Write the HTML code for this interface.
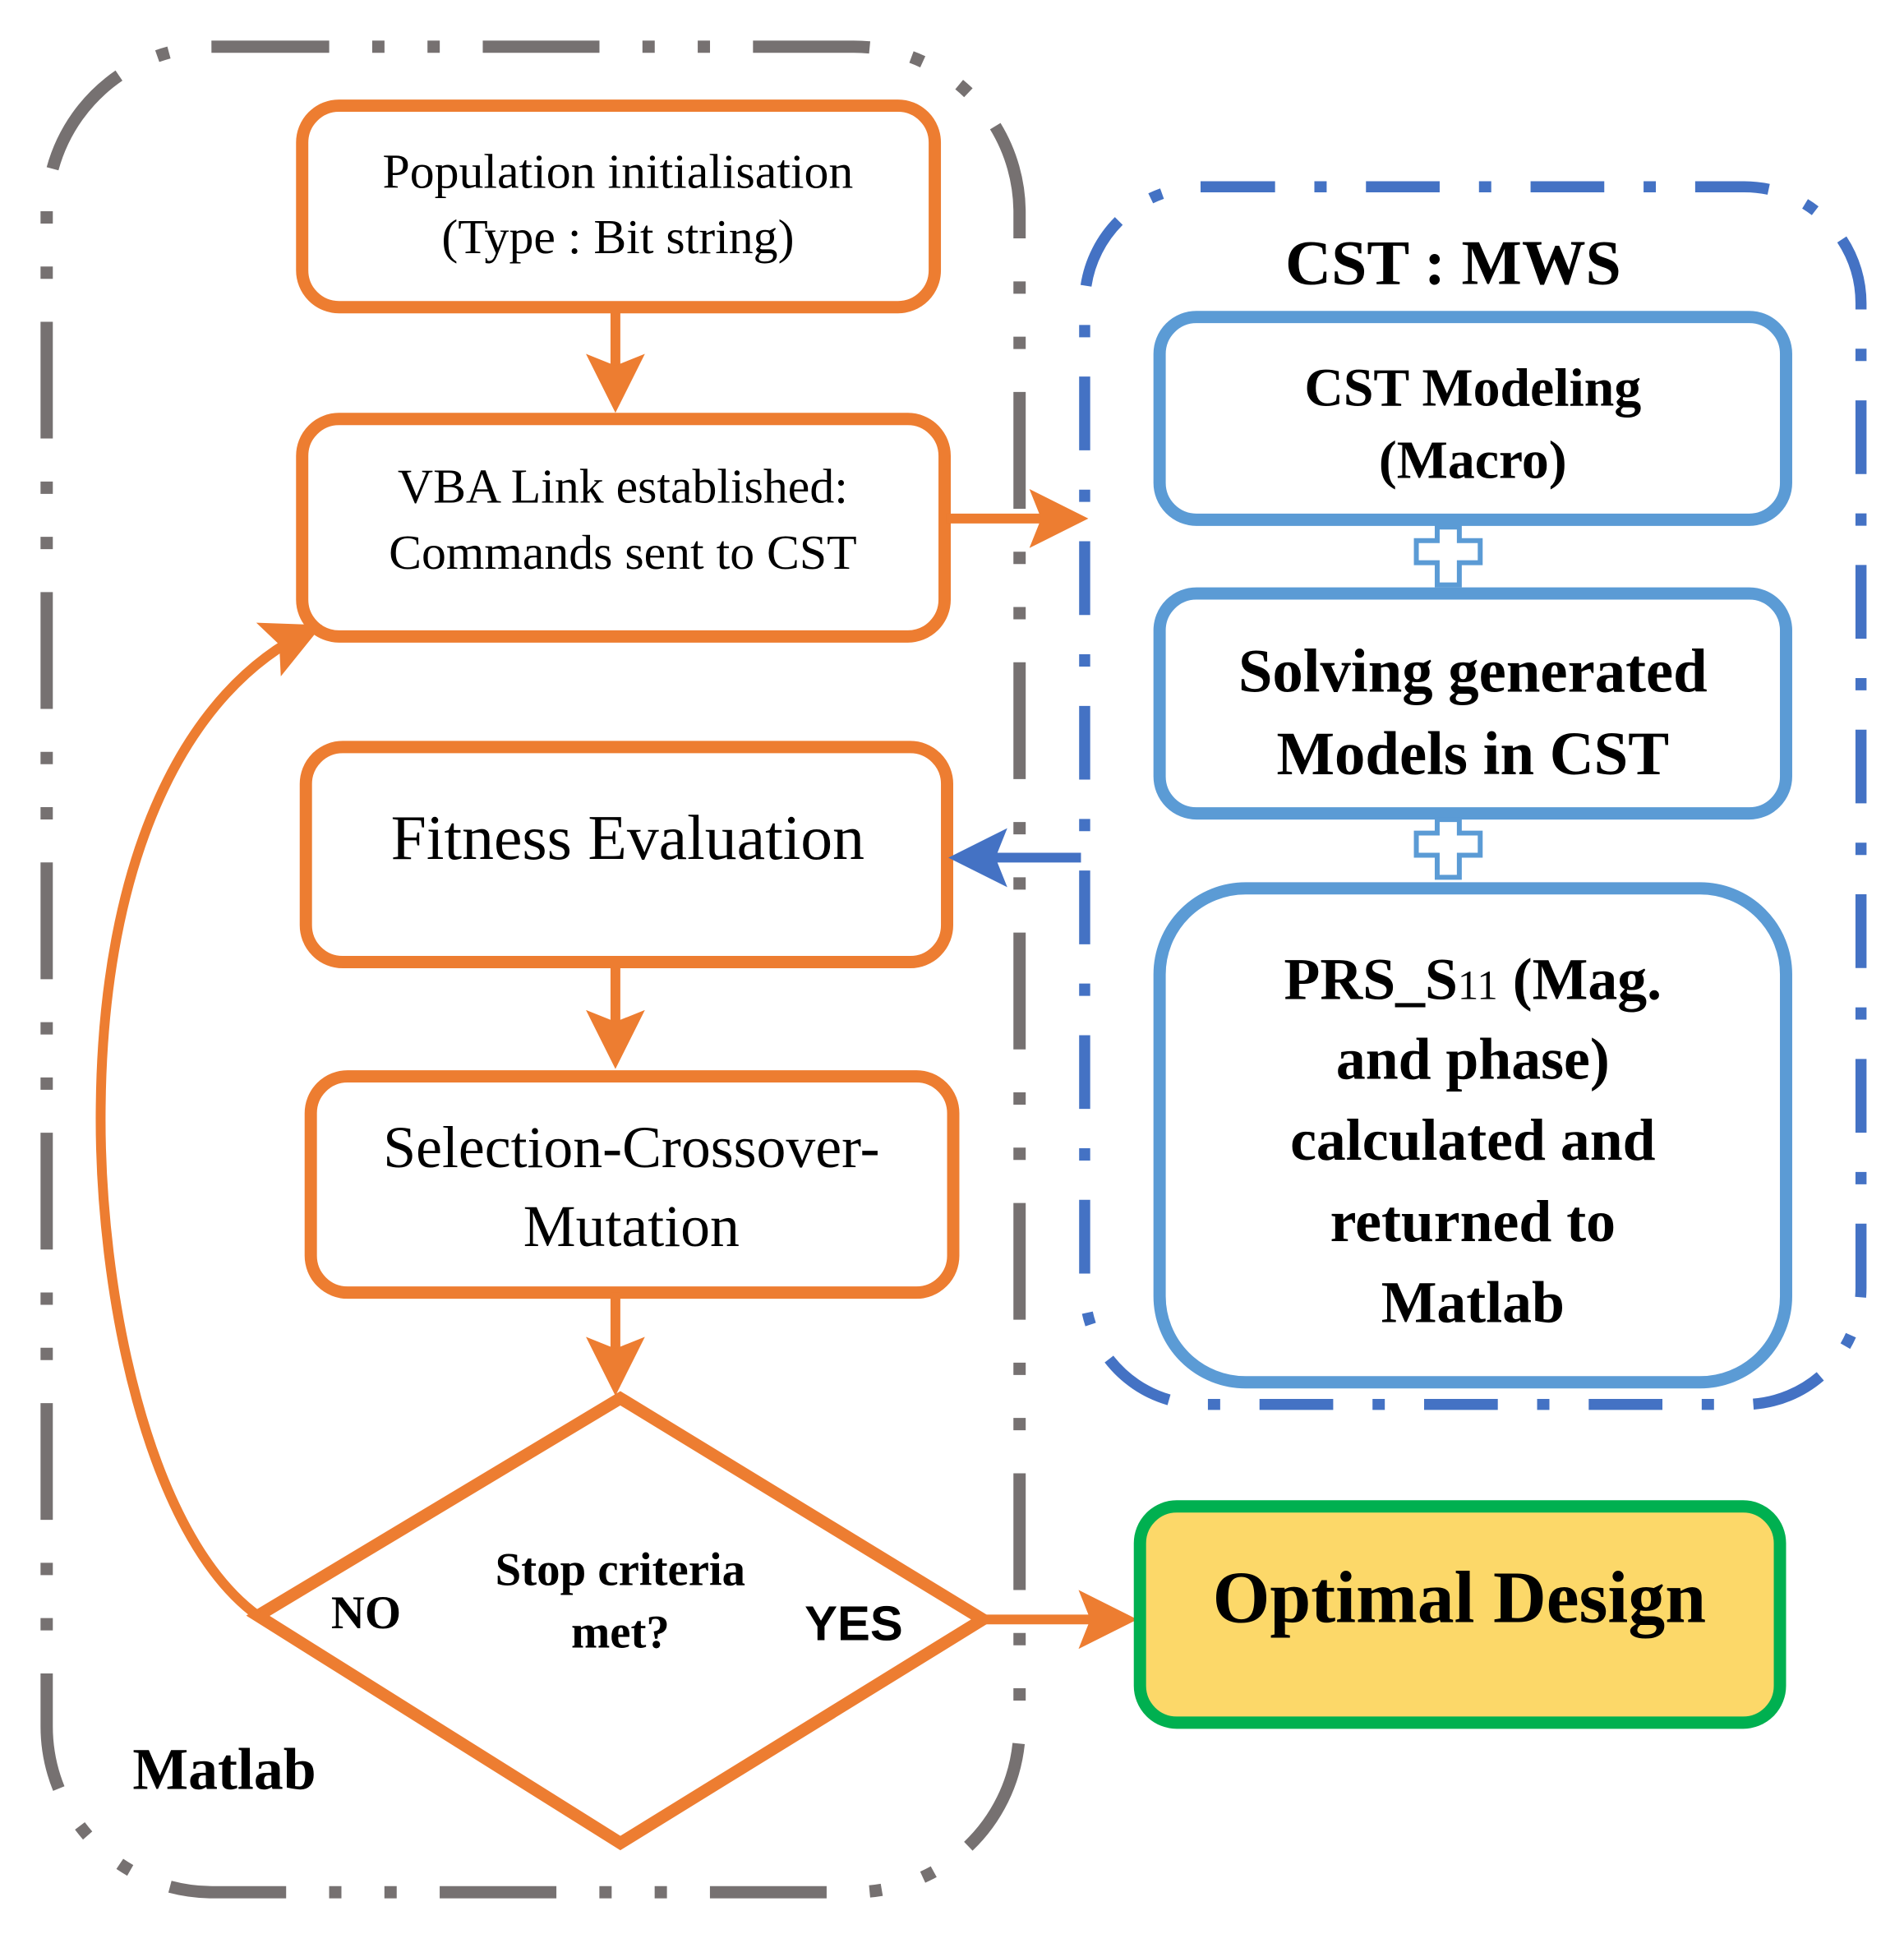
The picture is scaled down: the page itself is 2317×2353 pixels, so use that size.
<!DOCTYPE html>
<html><head><meta charset="utf-8"><style>
html,body{margin:0;padding:0;background:#fff;}
svg{display:block;}
text{font-family:"Liberation Serif",serif;fill:#000;}
</style></head><body>
<svg width="2317" height="2353" viewBox="0 0 1550 1574" preserveAspectRatio="none" xmlns="http://www.w3.org/2000/svg">
<defs>
<marker id="ao" markerWidth="6" markerHeight="6" refX="5" refY="3" orient="auto" markerUnits="strokeWidth"><path d="M0,0 L6,3 L0,6 L1.2,3 Z" fill="#ED7D31"/></marker>
<marker id="ab" markerWidth="6" markerHeight="6" refX="5" refY="3" orient="auto" markerUnits="strokeWidth"><path d="M0,0 L6,3 L0,6 L1.2,3 Z" fill="#4472C4"/></marker>
</defs>
<rect x="38" y="38" width="792" height="1502" rx="135" fill="none" stroke="#767171" stroke-width="10" stroke-dasharray="95 35 10 35 10 35"/>
<rect x="883" y="152" width="632" height="991" rx="95" fill="none" stroke="#4472C4" stroke-width="9" stroke-dasharray="60 32 10 32"/>

<g fill="#fff" stroke="#ED7D31" stroke-width="10">
<rect x="246" y="86" width="515" height="164" rx="30"/>
<rect x="246" y="341" width="523" height="177" rx="30"/>
<rect x="249" y="608" width="522" height="175" rx="30"/>
<rect x="253" y="876" width="523" height="176" rx="30"/>
<path d="M505,1138 L800,1318 L505,1500 L210,1315 Z"/>
</g>
<g stroke="#ED7D31" stroke-width="8" fill="none">
<line x1="501" y1="250" x2="501" y2="328" marker-end="url(#ao)"/>
<line x1="501" y1="783" x2="501" y2="862" marker-end="url(#ao)"/>
<line x1="501" y1="1052" x2="501" y2="1128" marker-end="url(#ao)"/>
<line x1="770" y1="422" x2="878" y2="422" marker-end="url(#ao)"/>
<line x1="800" y1="1318" x2="918" y2="1318" marker-end="url(#ao)"/>
<path d="M210,1315 C120,1250 80,1050 82,900 C84,700 150,560 255,512" marker-end="url(#ao)"/>
</g>
<line x1="880" y1="698" x2="780" y2="698" stroke="#4472C4" stroke-width="8" marker-end="url(#ab)"/>

<g fill="#fff" stroke="#5B9BD5" stroke-width="10">
<rect x="944" y="258" width="510" height="165" rx="30"/>
<rect x="944" y="483" width="510" height="179" rx="30"/>
<rect x="944" y="723" width="510" height="402" rx="70"/>
</g>
<g fill="#fff" stroke="#5B9BD5" stroke-width="4">
<path d="M1170,429 h18 v11 h17 v18 h-17 v18 h-18 v-18 h-17 v-18 h17 Z"/>
<path d="M1170,667 h18 v11 h17 v18 h-17 v18 h-18 v-18 h-17 v-18 h17 Z"/>
</g>

<rect x="928" y="1226" width="521" height="176" rx="30" fill="#FCD869" stroke="#00B050" stroke-width="10"/>

<g text-anchor="middle">
<text x="503" y="153" font-size="40">Population initialisation</text>
<text x="503" y="206" font-size="40">(Type : Bit string)</text>
<text x="507" y="409" font-size="40">VBA Link established:</text>
<text x="507" y="463" font-size="40">Commands sent to CST</text>
<text x="511" y="699" font-size="52">Fitness Evaluation</text>
<text x="514" y="950" font-size="48">Selection-Crossover-</text>
<text x="514" y="1014" font-size="48">Mutation</text>
<text x="505" y="1290" font-size="38" font-weight="bold">Stop criteria</text>
<text x="505" y="1341" font-size="38" font-weight="bold">met?</text>
<text x="298" y="1325" font-size="38" font-weight="bold">NO</text>
<text x="695" y="1335" font-size="40" font-weight="bold" style="font-family:'Liberation Sans',sans-serif">YES</text>
<text x="1183" y="231" font-size="52" font-weight="bold">CST : MWS</text>
<text x="1199" y="330" font-size="44" font-weight="bold">CST Modeling</text>
<text x="1199" y="389" font-size="44" font-weight="bold">(Macro)</text>
<text x="1199" y="563" font-size="50" font-weight="bold">Solving generated</text>
<text x="1199" y="630" font-size="50" font-weight="bold">Models in CST</text>
<text x="1199" y="813" font-size="48" font-weight="bold">PRS_S<tspan font-size="34" font-weight="normal">11</tspan> (Mag.</text>
<text x="1199" y="878" font-size="48" font-weight="bold">and phase)</text>
<text x="1199" y="944" font-size="48" font-weight="bold">calculated and</text>
<text x="1199" y="1010" font-size="48" font-weight="bold">returned to</text>
<text x="1199" y="1076" font-size="48" font-weight="bold">Matlab</text>
<text x="1188" y="1320" font-size="60" font-weight="bold">Optimal Design</text>
</g>
<text x="108" y="1456" font-size="48" font-weight="bold">Matlab</text>
</svg>
</body></html>
